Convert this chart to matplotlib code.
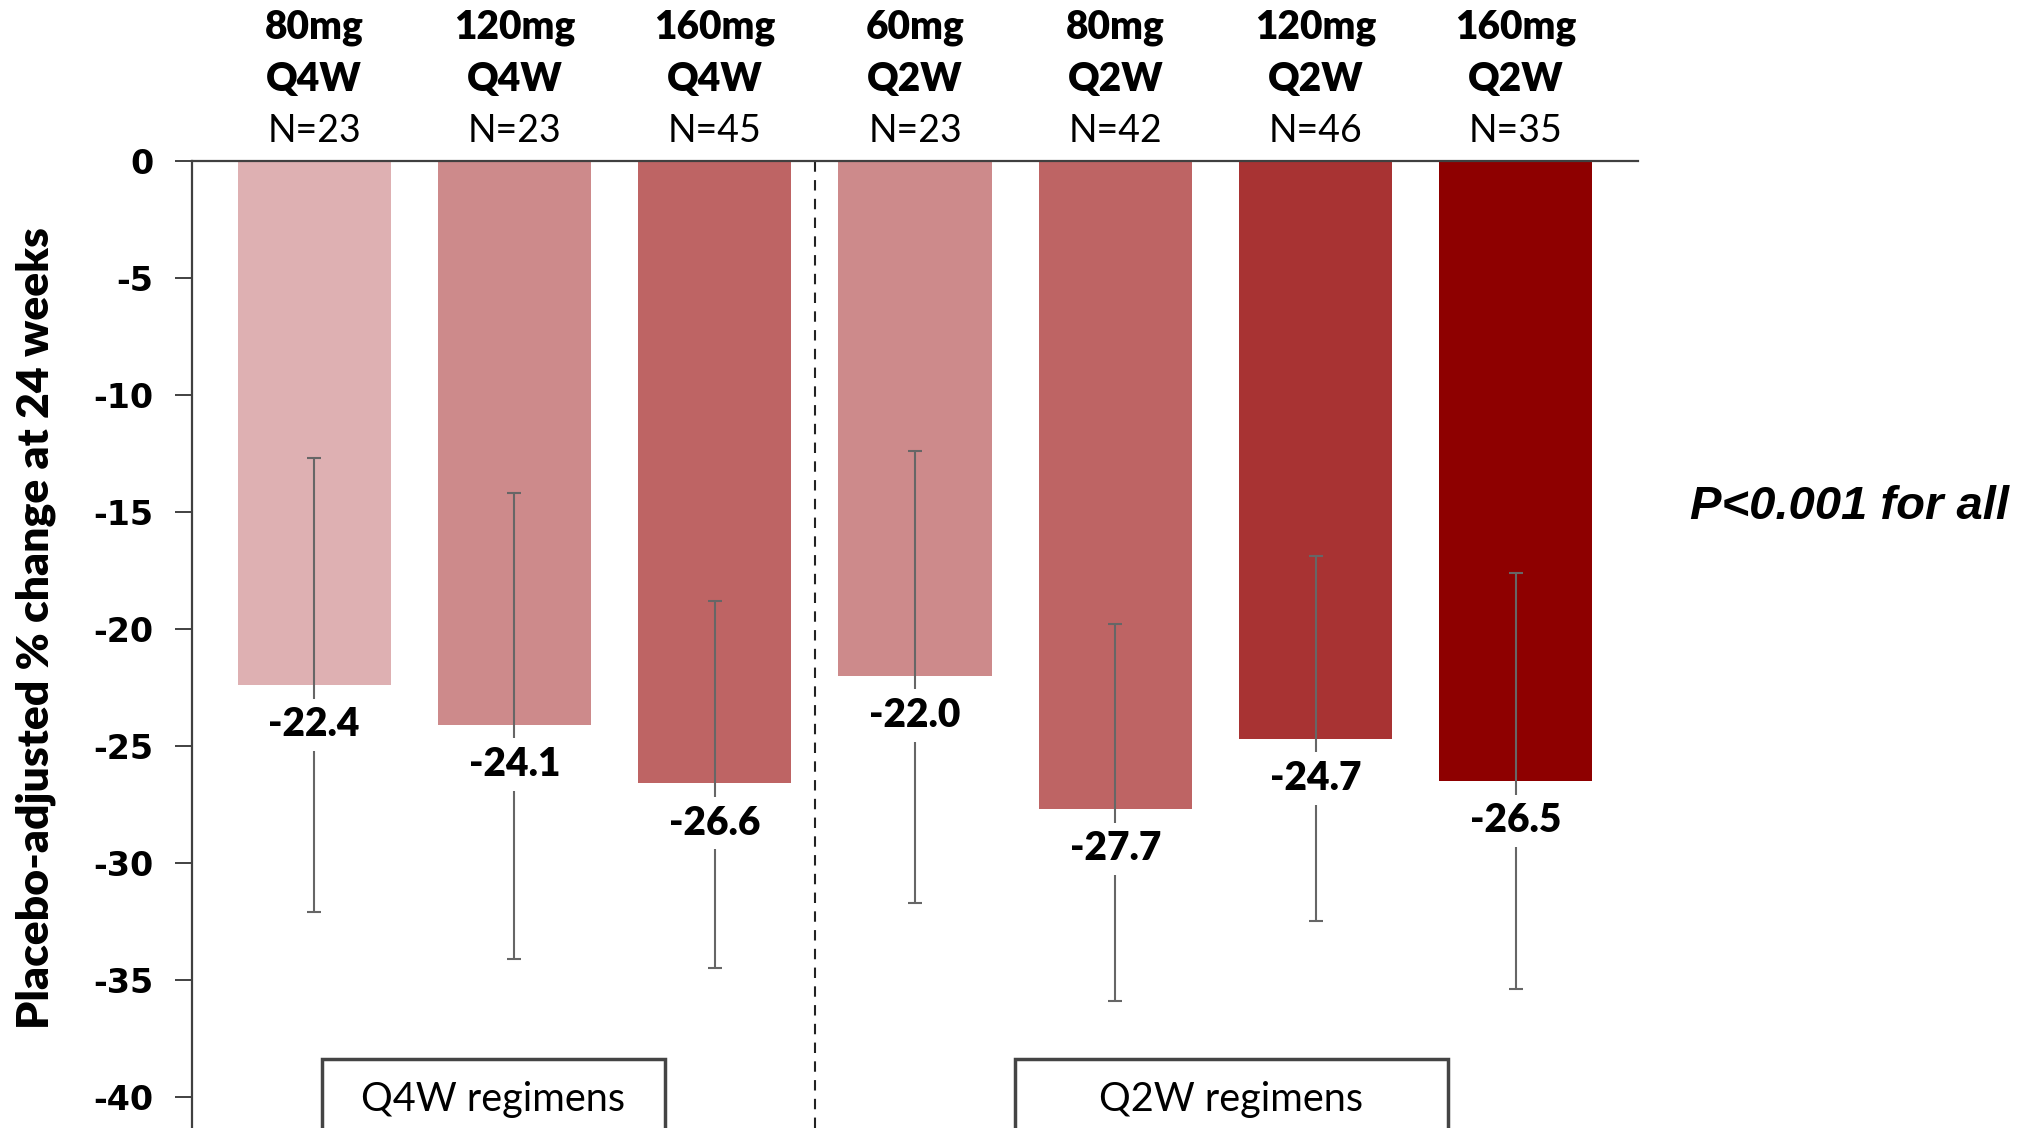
import numpy as np
import matplotlib
matplotlib.use('Agg')
import matplotlib.pyplot as plt
from matplotlib.patches import Rectangle

# data
doses = ['80mg', '120mg', '160mg', '60mg', '80mg', '120mg', '160mg']
regimens = ['Q4W', 'Q4W', 'Q4W', 'Q2W', 'Q2W', 'Q2W', 'Q2W']
n_pts = [23, 23, 45, 23, 42, 46, 35]
change = [-22.4, -24.1, -26.6, -22.0, -27.7, -24.7, -26.5]
ci_low = [-32.1, -34.1, -34.5, -31.7, -35.9, -32.5, -35.4]
ci_high = [-12.7, -14.2, -18.8, -12.4, -19.8, -16.9, -17.6]
colors = ['#DEB0B2', '#CD8A8B', '#BE6464', '#CD8A8B', '#BE6464', '#A83333', '#8E0000']
yticks = [0, -5, -10, -15, -20, -25, -30, -35, -40]
group_names = ['Q4W regimens', 'Q2W regimens']

font = 'Lato'

fig = plt.figure(figsize=(20.39, 11.28), dpi=100)
ax = fig.add_axes([0.0942, 0.0, 0.7091, 0.8573])

x = np.arange(len(change))
ax.bar(x, change, width=0.766, color=colors, zorder=1)

err = np.array([np.array(change) - np.array(ci_low),
                np.array(ci_high) - np.array(change)])
ax.errorbar(x, change, yerr=err, fmt='none', ecolor='#666666',
            elinewidth=1.5, capsize=5, capthick=1.5, zorder=2)

for xi, v in zip(x, change):
    ax.text(xi, v - 1.7, f'{v:.1f}', ha='center', va='center',
            fontsize=28, fontweight='heavy', family=font, zorder=3,
            bbox=dict(boxstyle='square,pad=0.2', fc='white', ec='none'))

# header labels above each bar
for xi, d, r, n in zip(x, doses, regimens, n_pts):
    ax.text(xi, 5.7, d, ha='center', va='center', fontsize=28,
            fontweight='heavy', family=font, clip_on=False)
    ax.text(xi, 3.5, r, ha='center', va='center', fontsize=28,
            fontweight='heavy', family=font, clip_on=False)
    ax.text(xi, 1.3, f'N={n}', ha='center', va='center', fontsize=27,
            family=font, clip_on=False)

ax.axvline(2.5, color='#222222', lw=1.5, ls=(0, (5, 4)), zorder=0)

# regimen boxes at the bottom
boxes = [(0.04, 1.75), (3.5, 5.66)]
for (x0, x1), name in zip(boxes, group_names):
    ax.add_patch(Rectangle((x0, -45), x1 - x0, 45 - 38.4, fill=False,
                           ec='#444444', lw=2.5, clip_on=False, zorder=4))
    ax.text((x0 + x1) / 2, -40.1, name, ha='center', va='center',
            fontsize=28.5, family=font, clip_on=False)

ax.set_xlim(-0.61, 6.61)
ax.set_ylim(-41.33, 0)
ax.set_xticks([])
ax.set_yticks(yticks)
ax.set_yticklabels([str(t) for t in yticks], fontsize=24,
                   fontweight='bold', family='DejaVu Sans')
ax.tick_params(axis='y', length=12, width=1.3, color='#333333', pad=16)
for s in ['right', 'bottom']:
    ax.spines[s].set_visible(False)
ax.spines['top'].set_color('#404040')
ax.spines['top'].set_linewidth(1.6)
ax.spines['left'].set_color('#404040')
ax.spines['left'].set_linewidth(1.6)

fig.text(36 / 2039, 0.4433, 'Placebo-adjusted % change at 24 weeks',
         rotation=90, ha='center', va='center', fontsize=32,
         fontweight='heavy', family=font)

fig.text(2009 / 2039, 1 - 507 / 1128, 'P<0.001 for all', ha='right',
         va='center', fontsize=34, fontweight='bold', fontstyle='italic',
         family='Liberation Sans')

fig.savefig('out.png', dpi=100)
